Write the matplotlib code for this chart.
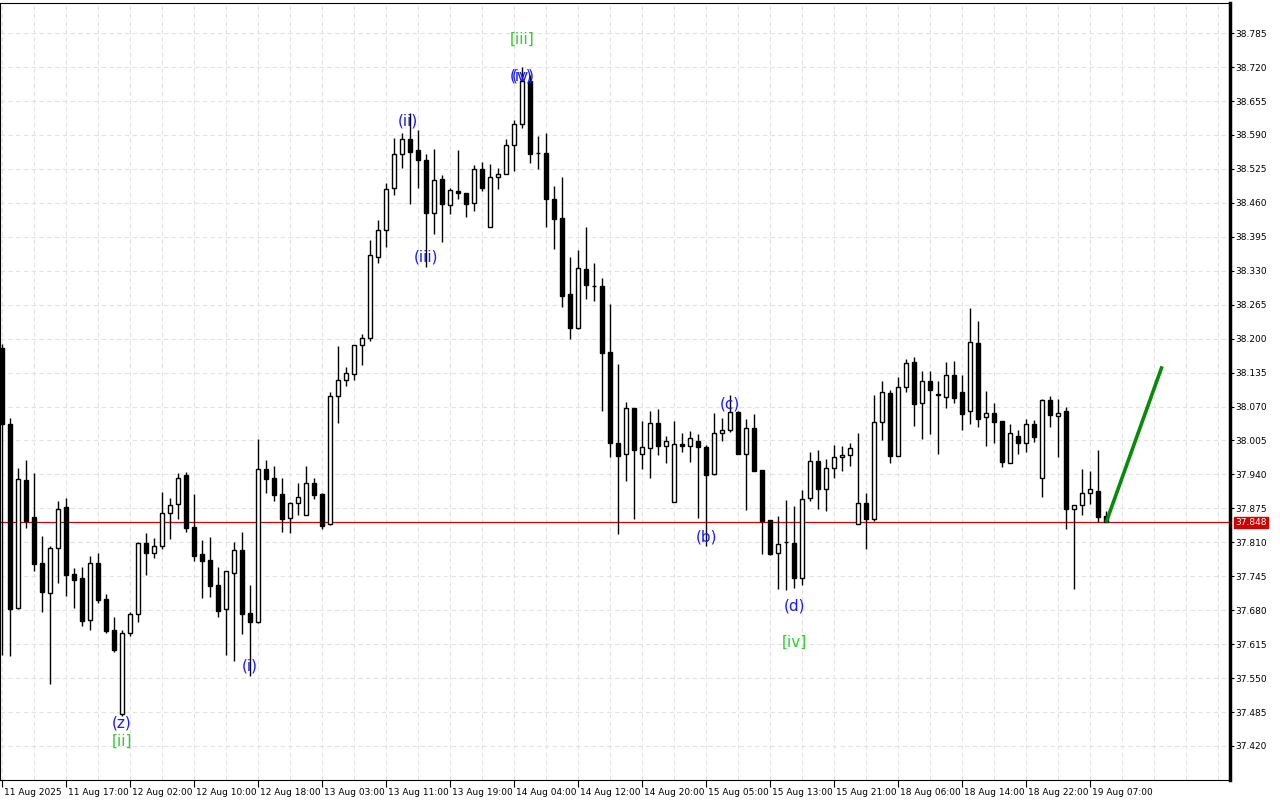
import matplotlib
matplotlib.use('Agg')
import matplotlib.pyplot as plt
import matplotlib.transforms as mtransforms
import numpy as np

# XAGUSD H1, bar index 0 = 11 Aug 09:00
opens = [38.182, 38.036, 37.685, 37.929, 37.858, 37.771, 37.713, 37.800, 37.877, 37.749,
         37.741, 37.661, 37.770, 37.701, 37.642, 37.481, 37.636, 37.672, 37.808, 37.789,
         37.802, 37.867, 37.884, 37.938, 37.839, 37.788, 37.777, 37.728, 37.683, 37.752,
         37.795, 37.675, 37.657, 37.951, 37.933, 37.902, 37.856, 37.885, 37.862, 37.923,
         37.903, 37.845, 38.091, 38.120, 38.132, 38.187, 38.202, 38.356, 38.409, 38.489,
         38.553, 38.582, 38.561, 38.542, 38.441, 38.505, 38.455, 38.482, 38.478, 38.459,
         38.524, 38.413, 38.509, 38.516, 38.570, 38.612, 38.693, 38.556, 38.555, 38.467,
         38.431, 38.285, 38.221, 38.333, 38.300, 38.301, 38.174, 38.000, 37.980, 38.068,
         37.980, 37.990, 38.038, 37.994, 37.888, 37.999, 37.994, 38.004, 37.992, 37.941,
         38.020, 38.026, 38.060, 37.980, 38.028, 37.948, 37.853, 37.789, 37.810, 37.809,
         37.742, 37.894, 37.965, 37.913, 37.953, 37.973, 37.978, 37.846, 37.885, 37.855,
         38.040, 38.095, 37.976, 38.107, 38.155, 38.076, 38.118, 38.092, 38.089, 38.130,
         38.097, 38.061, 38.191, 38.050, 38.057, 38.042, 37.962, 38.013, 38.000, 38.036,
         37.934, 38.082, 38.051, 38.061, 37.874, 37.881, 37.904, 37.908, 37.860]
highs = [38.190, 38.049, 37.953, 37.967, 37.943, 37.822, 37.802, 37.889, 37.894, 37.760,
         37.762, 37.784, 37.789, 37.711, 37.666, 37.642, 37.676, 37.811, 37.827, 37.819,
         37.906, 37.894, 37.942, 37.944, 37.902, 37.814, 37.821, 37.763, 37.755, 37.810,
         37.829, 37.728, 38.008, 37.967, 37.956, 37.934, 37.887, 37.923, 37.956, 37.933,
         37.905, 38.098, 38.186, 38.146, 38.187, 38.208, 38.389, 38.427, 38.498, 38.585,
         38.593, 38.633, 38.599, 38.553, 38.563, 38.513, 38.488, 38.561, 38.478, 38.532,
         38.539, 38.534, 38.526, 38.582, 38.618, 38.720, 38.705, 38.588, 38.593, 38.492,
         38.509, 38.356, 38.370, 38.414, 38.345, 38.316, 38.266, 38.151, 38.079, 38.068,
         38.043, 38.062, 38.065, 38.013, 38.042, 38.019, 38.023, 38.017, 37.996, 38.057,
         38.048, 38.092, 38.062, 38.047, 38.056, 37.948, 37.853, 37.861, 37.891, 37.879,
         37.910, 37.983, 37.987, 37.969, 37.997, 37.994, 38.000, 38.019, 37.904, 38.092,
         38.119, 38.101, 38.126, 38.161, 38.164, 38.138, 38.138, 38.119, 38.155, 38.157,
         38.130, 38.258, 38.234, 38.100, 38.076, 38.042, 38.036, 38.026, 38.046, 38.045,
         38.085, 38.091, 38.084, 38.070, 37.881, 37.950, 37.947, 37.987, 37.869]
lows = [37.595, 37.592, 37.682, 37.838, 37.756, 37.676, 37.539, 37.733, 37.708, 37.685,
        37.650, 37.642, 37.693, 37.636, 37.599, 37.478, 37.631, 37.657, 37.747, 37.779,
        37.798, 37.816, 37.854, 37.830, 37.775, 37.704, 37.706, 37.666, 37.594, 37.583,
        37.634, 37.554, 37.655, 37.905, 37.890, 37.829, 37.827, 37.862, 37.862, 37.892,
        37.835, 37.843, 38.038, 38.110, 38.121, 38.150, 38.195, 38.344, 38.376, 38.476,
        38.526, 38.457, 38.488, 38.338, 38.401, 38.386, 38.439, 38.467, 38.433, 38.445,
        38.483, 38.413, 38.486, 38.516, 38.521, 38.604, 38.537, 38.525, 38.414, 38.372,
        38.261, 38.200, 38.218, 38.276, 38.273, 38.062, 37.974, 37.825, 37.928, 37.855,
        37.950, 37.934, 37.978, 37.962, 37.888, 37.983, 37.964, 37.856, 37.802, 37.939,
        38.004, 38.022, 37.979, 37.871, 37.947, 37.788, 37.786, 37.720, 37.719, 37.722,
        37.728, 37.890, 37.874, 37.869, 37.934, 37.947, 37.957, 37.846, 37.798, 37.851,
        38.005, 37.961, 37.976, 38.097, 38.033, 38.008, 38.018, 37.980, 38.068, 38.077,
        38.026, 38.037, 38.031, 37.995, 38.001, 37.954, 37.961, 37.980, 37.982, 38.002,
        37.896, 38.031, 37.974, 37.836, 37.721, 37.863, 37.884, 37.848, 37.848]
closes = [38.036, 37.683, 37.932, 37.851, 37.769, 37.715, 37.800, 37.873, 37.748, 37.738,
          37.660, 37.770, 37.700, 37.641, 37.604, 37.636, 37.672, 37.808, 37.789, 37.802,
          37.867, 37.882, 37.934, 37.838, 37.784, 37.775, 37.727, 37.679, 37.755, 37.795,
          37.673, 37.657, 37.951, 37.932, 37.901, 37.855, 37.885, 37.896, 37.923, 37.901,
          37.842, 38.091, 38.120, 38.134, 38.187, 38.202, 38.361, 38.409, 38.486, 38.553,
          38.583, 38.558, 38.543, 38.441, 38.503, 38.457, 38.484, 38.478, 38.457, 38.524,
          38.489, 38.509, 38.516, 38.570, 38.612, 38.693, 38.554, 38.555, 38.468, 38.430,
          38.282, 38.221, 38.335, 38.303, 38.300, 38.173, 38.001, 37.976, 38.068, 37.986,
          37.992, 38.038, 37.994, 38.004, 37.999, 37.994, 38.010, 37.992, 37.939, 38.020,
          38.026, 38.060, 37.980, 38.028, 37.947, 37.851, 37.788, 37.807, 37.810, 37.741,
          37.893, 37.965, 37.913, 37.953, 37.973, 37.978, 37.990, 37.885, 37.855, 38.040,
          38.097, 37.976, 38.107, 38.153, 38.074, 38.118, 38.101, 38.092, 38.130, 38.087,
          38.056, 38.193, 38.047, 38.057, 38.040, 37.964, 38.019, 38.001, 38.036, 38.011,
          38.082, 38.053, 38.057, 37.874, 37.881, 37.904, 37.912, 37.859, 37.848]

time_labels = ['11 Aug 2025', '11 Aug 17:00', '12 Aug 02:00', '12 Aug 10:00', '12 Aug 18:00',
               '13 Aug 03:00', '13 Aug 11:00', '13 Aug 19:00', '14 Aug 04:00', '14 Aug 12:00',
               '14 Aug 20:00', '15 Aug 05:00', '15 Aug 13:00', '15 Aug 21:00', '18 Aug 06:00',
               '18 Aug 14:00', '18 Aug 22:00', '19 Aug 07:00']

current_price = 37.848

# wave labels: text, bar index, price, colour
wave_text = ['(z)', '[ii]', '(i)', '(ii)', '(iii)', '[iii]', '(iv)', '(v)', '(b)', '(c)', '(d)', '[iv]']
wave_bar = [15, 15, 31, 50.75, 53, 65, 65, 65, 88, 91, 99, 99]
wave_price = [37.464, 37.428, 37.573, 38.617, 38.356, 38.774, 38.703, 38.703, 37.820, 38.075, 37.688, 37.619]
wave_green = [False, True, False, False, False, True, False, False, False, False, False, True]

forecast_x = [138, 145]
forecast_y = [37.848, 38.147]

fig = plt.figure(figsize=(12.8, 8), dpi=100)
ax = fig.add_axes([0.0, 0.025, 0.961, 0.971])

n = len(opens)
idx = np.arange(n)
o = np.array(opens)
c = np.array(closes)
h = np.array(highs)
l = np.array(lows)
up = c >= o

# grid
for k in range(0, 156, 4):
  ax.axvline(k, color='#e3e3e3', lw=0.8, ls=(0, (4, 3)), zorder=0)
yticks = np.round(np.arange(37.420, 38.786, 0.065), 3)
for yv in yticks:
  ax.axhline(yv, color='#e3e3e3', lw=0.8, ls=(0, (4, 3)), zorder=0)

ax.axhline(current_price, color='#d40000', lw=0.9, zorder=1)

ax.vlines(idx, l, h, color='black', lw=1.0, zorder=2)
body = np.maximum(np.abs(c - o), 0.0012)
bottom = np.minimum(o, c)
ax.bar(idx[up], body[up], bottom=bottom[up], width=0.6, color='white',
       edgecolor='black', linewidth=1.0, zorder=3)
ax.bar(idx[~up], body[~up], bottom=bottom[~up], width=0.6, color='black',
       edgecolor='black', linewidth=1.0, zorder=3)

ax.plot(forecast_x, forecast_y, color='#0a8a0a', lw=2.6, solid_capstyle='butt', zorder=4)

for t, xb, yp, g in zip(wave_text, wave_bar, wave_price, wave_green):
  ax.text(xb, yp, t, color='#33cc33' if g else '#1a1aff', fontsize=11,
          ha='center', va='center', zorder=5)

ax.set_xlim(-0.25, 153.5)
ax.set_ylim(37.3548, 38.8424)

ax.yaxis.tick_right()
ax.set_yticks(yticks)
ax.set_yticklabels(['%.3f' % v for v in yticks], fontsize=6.5)
ax.tick_params(axis='y', direction='out', length=3, width=0.8, pad=1)

ax.set_xticks(np.arange(0, 8 * len(time_labels), 8))
ax.set_xticklabels(time_labels, fontsize=6.5)
ax.tick_params(axis='x', direction='out', length=5, width=0.8, pad=1)
offset = mtransforms.ScaledTranslation(2 / 100, 0, fig.dpi_scale_trans)
for lab in ax.get_xticklabels():
  lab.set_ha('left')
  lab.set_transform(lab.get_transform() + offset)

for side in ['left', 'top', 'bottom']:
  ax.spines[side].set_linewidth(0.8)
ax.spines['right'].set_linewidth(2.5)

ax.annotate('%.3f' % current_price, xy=(1.0, current_price),
            xycoords=('axes fraction', 'data'), xytext=(4, 0), textcoords='offset points',
            fontsize=6.5, color='white', va='center', ha='left',
            bbox=dict(boxstyle='square,pad=0.15', fc='#cc0000', ec='#cc0000'),
            annotation_clip=False)

fig.savefig('out.png', dpi=100)
